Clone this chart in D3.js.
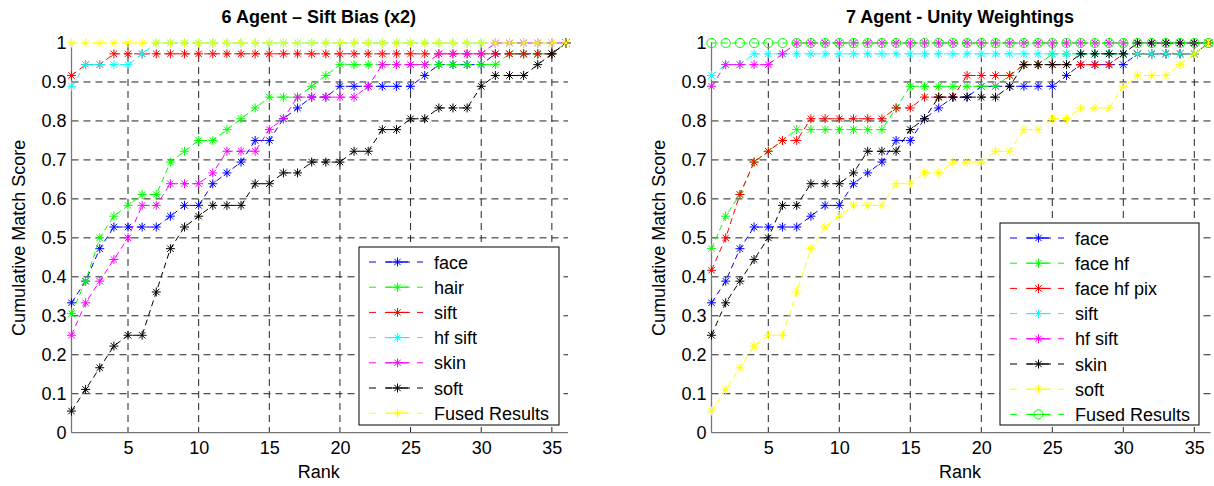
<!DOCTYPE html>
<html>
<head>
<meta charset="utf-8">
<script src="https://cdn.jsdelivr.net/npm/d3@7"></script>
<style>
  body { margin: 0; background: #fff; }
  text { font-family: Arial, "Liberation Sans", Helvetica, sans-serif; }
</style>
</head>
<body>
<svg id="chart" width="1214" height="486"></svg>
<script>
// number of correct matches (out of 36 subjects) at each rank 1..36
const GALLERY = 36;
const face      = [12,14,17,19,19,19,19,20,21,21,23,24,25,27,27,29,30,31,31,32,32,32,32,32,32,33,34,34,34,34,35,35,35,35,35,36];
const hair      = [11,14,18,20,21,22,22,25,26,27,27,28,29,30,31,31,31,32,33,34,34,34,34,34,34,34,34,34,34,34,34,35,35,35,35,36];
const sift      = [33,34,34,35,35,35,35,35,35,35,35,35,35,35,35,35,35,35,35,35,35,35,35,35,35,35,35,35,35,35,35,35,35,35,35,36];
const hfSift    = [32,34,34,34,34,35,36,36,36,36,36,36,36,36,36,36,36,36,36,36,36,36,36,36,36,36,36,36,36,36,36,36,36,36,36,36];
const skin      = [9,12,14,16,18,21,21,23,23,23,24,26,26,26,28,29,31,31,31,31,31,32,34,34,34,34,35,35,35,35,36,36,36,36,36,36];
const soft      = [2,4,6,8,9,9,13,17,19,20,21,21,21,23,23,24,24,25,25,25,26,26,28,28,29,29,30,30,30,32,33,33,33,34,35,36];
const fusedBias = [36,36,36,36,36,36,36,36,36,36,36,36,36,36,36,36,36,36,36,36,36,36,36,36,36,36,36,36,36,36,36,36,36,36,36,36];
const faceHf    = [17,20,22,25,26,27,28,28,28,28,28,28,28,30,32,32,32,32,32,32,32,33,34,34,35,35,35,35,35,35,35,35,35,35,35,36];
const faceHfPix = [15,18,22,25,26,27,27,29,29,29,29,29,29,30,30,31,31,31,33,33,33,33,34,34,34,34,34,34,34,35,35,35,35,35,35,36];
const fusedUnity= [36,36,36,36,36,36,36,36,36,36,36,36,36,36,36,36,36,36,36,36,36,36,36,36,36,36,36,36,36,36,36,36,36,36,36,36];

const leftNames  = ['face', 'hair', 'sift', 'hf sift', 'skin', 'soft', 'Fused Results'];
const leftData   = [face, hair, sift, hfSift, skin, soft, fusedBias];
const leftColors = ['#0000ff', '#00ff00', '#ff0000', '#00ffff', '#ff00ff', '#000000', '#ffff00'];

const rightNames  = ['face', 'face hf', 'face hf pix', 'sift', 'hf sift', 'skin', 'soft', 'Fused Results'];
const rightData   = [face, faceHf, faceHfPix, sift, hfSift, skin, soft, fusedUnity];
const rightColors = ['#0000ff', '#00ff00', '#ff0000', '#00ffff', '#ff00ff', '#000000', '#ffff00', '#00ff00'];
const rightMarkers = ['*', '*', '*', '*', '*', '*', '*', 'o'];

const xTicks = [5, 10, 15, 20, 25, 30, 35];
const yTicks = [0, 0.1, 0.2, 0.3, 0.4, 0.5, 0.6, 0.7, 0.8, 0.9, 1];

const svg = d3.select('#chart');
const plotTop = 43, plotBottom = 432.7;
const fontSize = 18;

// MATLAB style '*' marker
const star = 'M-4.5,0H4.5M0,-4.5V4.5M-3.2,-3.2L3.2,3.2M-3.2,3.2L3.2,-3.2';

function marker(sel, type, color) {
  if (type === 'o') {
    sel.append('circle').attr('r', 4.6).attr('fill', 'none')
      .attr('stroke', color).attr('stroke-width', 1);
  } else {
    sel.append('path').attr('d', star).attr('fill', 'none')
      .attr('stroke', color).attr('stroke-width', 1);
  }
}

function drawPanel(opt) {
  const x = d3.scaleLinear().domain([1, 36]).range([opt.left, opt.right]);
  const y = d3.scaleLinear().domain([0, 1]).range([plotBottom, plotTop]);
  const g = svg.append('g');

  // grid
  g.append('g').selectAll('line').data(xTicks).join('line')
    .attr('x1', d => x(d)).attr('x2', d => x(d))
    .attr('y1', plotTop).attr('y2', plotBottom)
    .attr('stroke', '#222').attr('stroke-width', 1).attr('stroke-dasharray', '7,5');
  g.append('g').selectAll('line').data(yTicks.filter(d => d > 0 && d < 1)).join('line')
    .attr('x1', opt.left).attr('x2', opt.right + 2)
    .attr('y1', d => y(d)).attr('y2', d => y(d))
    .attr('stroke', '#222').attr('stroke-width', 1).attr('stroke-dasharray', '7,5');

  // axes
  const yAxis = g.append('g').attr('transform', `translate(${opt.left},0)`)
    .call(d3.axisLeft(y).tickValues(yTicks).tickSize(0).tickPadding(5)
      .tickFormat(d => (d === 0 || d === 1) ? d : d.toFixed(1)));
  const xAxis = g.append('g').attr('transform', `translate(0,${plotBottom})`)
    .call(d3.axisBottom(x).tickValues(xTicks).tickSize(0).tickPadding(9));
  [xAxis, yAxis].forEach(a => {
    a.select('.domain').attr('stroke', '#777').attr('stroke-width', 1.3);
    a.selectAll('text').attr('font-size', fontSize).attr('fill', '#000')
      .attr('font-family', 'Arial, "Liberation Sans", sans-serif');
  });
  xAxis.select('.domain').attr('d', `M${opt.left},0H${opt.right + 2}`);
  yAxis.select('.domain').attr('d', `M0,${plotBottom}V${plotTop - 1}`);

  // series
  const line = d3.line().x((d, i) => x(i + 1)).y(d => y(d / GALLERY));
  opt.data.forEach((vals, k) => {
    const col = opt.colors[k];
    g.append('path').datum(vals).attr('d', line)
      .attr('fill', 'none').attr('stroke', col).attr('stroke-width', 1)
      .attr('stroke-dasharray', '6,4');
    g.append('g').selectAll('g').data(vals).join('g')
      .attr('transform', (d, i) => `translate(${x(i + 1)},${y(d / GALLERY)})`)
      .each(function () { marker(d3.select(this), opt.markers[k], col); });
  });

  // titles
  const cx = (opt.left + opt.right) / 2;
  svg.append('text').attr('x', cx).attr('y', 23).attr('text-anchor', 'middle')
    .attr('font-size', 18).attr('font-weight', 'bold').text(opt.title);
  svg.append('text').attr('x', cx).attr('y', 478).attr('text-anchor', 'middle')
    .attr('font-size', fontSize).text('Rank');
  svg.append('text').attr('transform', `translate(${opt.left - 47},${(plotTop + plotBottom) / 2}) rotate(-90)`)
    .attr('text-anchor', 'middle').attr('font-size', fontSize).text('Cumulative Match Score');

  // legend
  const L = opt.legend;
  const lg = svg.append('g').attr('transform', `translate(${L.x},${L.y})`);
  lg.append('rect').attr('width', L.w).attr('height', L.h)
    .attr('fill', '#fff').attr('stroke', '#000').attr('stroke-width', 1);
  opt.names.forEach((name, k) => {
    const row = lg.append('g').attr('transform', `translate(0,${15 + k * 25.2})`);
    row.append('line').attr('x1', 10).attr('x2', 64).attr('y1', 0).attr('y2', 0)
      .attr('stroke', opt.colors[k]).attr('stroke-width', 1).attr('stroke-dasharray', '7,9');
    row.append('line').attr('x1', 27).attr('x2', 51).attr('y1', 0).attr('y2', 0)
      .attr('stroke', opt.colors[k]).attr('stroke-width', 1);
    marker(row.append('g').attr('transform', 'translate(38.5,0)'), opt.markers[k], opt.colors[k]);
    row.append('text').attr('x', 75).attr('y', 6.5).attr('font-size', fontSize).text(name);
  });
}

drawPanel({
  left: 71.5, right: 566, title: '6 Agent \u2013 Sift Bias (x2)',
  names: leftNames, data: leftData, colors: leftColors,
  markers: leftNames.map(() => '*'),
  legend: { x: 359, y: 247, w: 200, h: 178 }
});
drawPanel({
  left: 711.5, right: 1208.5, title: '7 Agent - Unity Weightings',
  names: rightNames, data: rightData, colors: rightColors, markers: rightMarkers,
  legend: { x: 1000, y: 223, w: 199, h: 202 }
});
</script>
</body>
</html>
